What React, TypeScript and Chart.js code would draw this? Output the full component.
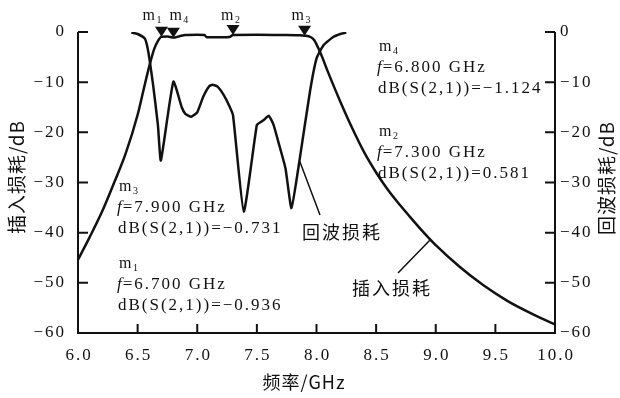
import React, { useEffect, useRef } from "react";
import { Chart, registerables } from "chart.js";

Chart.register(...registerables);

// Insertion loss S(2,1)
const s21Freq = [6.0, 6.1, 6.2, 6.3, 6.4, 6.5, 6.55, 6.6, 6.64, 6.67, 6.7, 6.75, 6.8, 6.85, 6.9, 7.0, 7.06, 7.08, 7.2, 7.27, 7.3, 7.5, 7.7, 7.85, 7.9, 7.95, 7.98, 8.03, 8.1, 8.2, 8.3, 8.4, 8.5, 8.6, 8.7, 8.8, 8.9, 9.0, 9.2, 9.4, 9.6, 9.8, 10.0];
const s21Db = [-45.4, -40.8, -35.9, -30.2, -24.2, -16.5, -11.5, -6.6, -3.3, -1.8, -0.94, -0.9, -1.12, -0.85, -0.6, -0.55, -0.6, -1.05, -1.05, -1.0, -0.58, -0.55, -0.6, -0.65, -0.73, -1.0, -1.6, -4.0, -8.2, -13.9, -19.2, -24.0, -28.0, -31.5, -34.5, -37.3, -40.0, -42.5, -46.8, -50.5, -53.6, -56.1, -58.3];

// Return loss S(1,1)
const s11Freq = [6.447, 6.5, 6.56, 6.58, 6.6, 6.63, 6.67, 6.695, 6.8, 6.87, 6.9, 6.95, 7.0, 7.05, 7.1, 7.13, 7.17, 7.22, 7.27, 7.3, 7.39, 7.5, 7.53, 7.56, 7.6, 7.64, 7.68, 7.74, 7.79, 7.86, 7.945, 8.0, 8.06, 8.14, 8.2, 8.25];
const s11Db = [-0.1, -0.4, -1.3, -2.8, -5.5, -10.6, -18.5, -25.6, -9.9, -15.0, -16.3, -16.9, -16.0, -12.9, -10.8, -10.5, -10.9, -12.5, -14.8, -16.6, -35.8, -18.5, -18.0, -17.5, -16.7, -18.5, -21.9, -27.2, -35.1, -25.2, -11.9, -5.3, -2.6, -1.0, -0.4, -0.1];

// Axis ticks
const freqTicks = [6.0, 6.5, 7.0, 7.5, 8.0, 8.5, 9.0, 9.5, 10.0];
const dbTicks = [0, -10, -20, -30, -40, -50, -60];

// Markers
const markerNames = ["1", "4", "2", "3"];
const markerFreq = [6.7, 6.8, 7.3, 7.9];
const markerDb = [-0.936, -1.124, -0.581, -0.731];
const markerFreqText = ["6.700", "6.800", "7.300", "7.900"];
const markerDbText = ["\u22120.936", "\u22121.124", "0.581", "\u22120.731"];

const xTitle = "频率/GHz";
const yTitle = "插入损耗/dB";
const y2Title = "回波损耗/dB";
const s11Label = "回波损耗";
const s21Label = "插入损耗";

const SERIF = "'Liberation Serif', 'Times New Roman', serif";
const CJK = "'Noto Sans CJK SC', sans-serif";

function fmtDb(v: number) {
  return v < 0 ? "\u2212" + Math.abs(v) : String(v);
}

function drawText(ctx: any, s: string, x: number, y: number, font: string, align: CanvasTextAlign = "left", spacing = "0px", baseline: CanvasTextBaseline = "middle") {
  ctx.save();
  ctx.font = font;
  ctx.textAlign = align;
  ctx.textBaseline = baseline;
  try { ctx.letterSpacing = spacing; } catch (e) {}
  ctx.fillStyle = "#111";
  ctx.fillText(s, x, y);
  ctx.restore();
}

function drawM(ctx: any, sub: string, x: number, yMid: number) {
  ctx.save();
  ctx.fillStyle = "#111";
  ctx.textBaseline = "alphabetic";
  ctx.textAlign = "left";
  ctx.font = `16px ${SERIF}`;
  ctx.fillText("m", x, yMid + 4);
  const w = ctx.measureText("m").width;
  ctx.font = `10px ${SERIF}`;
  ctx.fillText(sub, x + w + 1.5, yMid + 7);
  ctx.restore();
}

const overlay = {
  id: "overlay",
  afterDraw(chart: any) {
    const ctx = chart.ctx;
    const xs = chart.scales.x;
    const ys = chart.scales.y;
    const y2s = chart.scales.y2;
    const { left, right, top, bottom } = chart.chartArea;
    ctx.save();
    ctx.strokeStyle = "#111";
    ctx.lineWidth = 2;
    ctx.lineCap = "butt";
    // axis lines
    ctx.beginPath();
    ctx.moveTo(left, top);
    ctx.lineTo(left, bottom);
    ctx.lineTo(right, bottom);
    ctx.lineTo(right, top);
    ctx.stroke();
    // ticks
    ctx.beginPath();
    dbTicks.forEach((v) => {
      if (v === -60) return;
      const py = ys.getPixelForValue(v);
      ctx.moveTo(left, py);
      ctx.lineTo(left + 10, py);
      const py2 = y2s.getPixelForValue(v);
      ctx.moveTo(right, py2);
      ctx.lineTo(right - 10, py2);
    });
    freqTicks.forEach((f) => {
      if (f === 6.0 || f === 10.0) return;
      const px = xs.getPixelForValue(f);
      ctx.moveTo(px, bottom);
      ctx.lineTo(px, bottom - 9);
    });
    ctx.stroke();
    ctx.restore();

    // tick labels
    const tf = `17px ${SERIF}`;
    dbTicks.forEach((v) => {
      drawText(ctx, fmtDb(v), left - 12, ys.getPixelForValue(v), tf, "right", "2px");
      drawText(ctx, fmtDb(v), right + 5, y2s.getPixelForValue(v), tf, "left", "2px");
    });
    freqTicks.forEach((f) => {
      drawText(ctx, f.toFixed(1), xs.getPixelForValue(f) + 1, bottom + 23, tf, "center", "2px");
    });

    // axis titles
    drawText(ctx, xTitle, 304, 382, `18px ${CJK}`, "center", "1px");
    ctx.save();
    ctx.translate(17, 177);
    ctx.rotate(-Math.PI / 2);
    drawText(ctx, yTitle, 0, 0, `19px ${CJK}`, "center", "1px");
    ctx.restore();
    ctx.save();
    ctx.translate(607, 178);
    ctx.rotate(-Math.PI / 2);
    drawText(ctx, y2Title, 0, 0, `19px ${CJK}`, "center", "1px");
    ctx.restore();

    // markers
    const labelOffsets = [-19, -4, -12, -13];
    markerFreq.forEach((f, i) => {
      const px = xs.getPixelForValue(f);
      const py = ys.getPixelForValue(markerDb[i]);
      ctx.save();
      ctx.fillStyle = "#111";
      ctx.beginPath();
      ctx.moveTo(px, py);
      ctx.lineTo(px - 6.5, py - 10);
      ctx.lineTo(px + 6.5, py - 10);
      ctx.closePath();
      ctx.fill();
      ctx.restore();
      drawM(ctx, markerNames[i], px + labelOffsets[i], 16);
    });

    // marker readout blocks
    const blocks = [
      { i: 1, x: 378, y: 47 },
      { i: 2, x: 378, y: 132 },
      { i: 3, x: 118, y: 187 },
      { i: 0, x: 118, y: 264 },
    ];
    const af = `17px ${SERIF}`;
    blocks.forEach((b) => {
      drawM(ctx, markerNames[b.i], b.x + 1, b.y);
      ctx.save();
      ctx.font = `italic 17px ${SERIF}`;
      ctx.fillStyle = "#111";
      ctx.textBaseline = "middle";
      ctx.fillText("f", b.x - 1, b.y + 21);
      const fw = ctx.measureText("f").width;
      ctx.restore();
      drawText(ctx, "=" + markerFreqText[b.i] + " GHz", b.x - 1 + fw + 1, b.y + 21, af, "left", "2px");
      drawText(ctx, "dB(S(2,1))=" + markerDbText[b.i], b.x, b.y + 42, af, "left", "2px");
    });

    // leader lines and curve labels
    ctx.save();
    ctx.strokeStyle = "#111";
    ctx.lineWidth = 1.5;
    ctx.beginPath();
    ctx.moveTo(xs.getPixelForValue(7.86), y2s.getPixelForValue(-25.8));
    ctx.lineTo(320, 215);
    ctx.moveTo(xs.getPixelForValue(8.95), ys.getPixelForValue(-41.5));
    ctx.lineTo(398, 273);
    ctx.stroke();
    ctx.restore();
    drawText(ctx, s11Label, 302, 232, `18px ${CJK}`, "left", "2px");
    drawText(ctx, s21Label, 352, 288, `18px ${CJK}`, "left", "2px");
  },
};

export default function App() {
  const ref = useRef<HTMLCanvasElement | null>(null);
  useEffect(() => {
    if (!ref.current) return;
    const chart = new Chart(ref.current, {
      type: "line",
      data: {
        datasets: [
          {
            label: "S21",
            data: s21Freq.map((f, i) => ({ x: f, y: s21Db[i] })),
            yAxisID: "y",
            borderColor: "#111",
            borderWidth: 2.5,
            pointRadius: 0,
            cubicInterpolationMode: "monotone",
            fill: false,
          },
          {
            label: "S11",
            data: s11Freq.map((f, i) => ({ x: f, y: s11Db[i] })),
            yAxisID: "y2",
            borderColor: "#111",
            borderWidth: 2.5,
            pointRadius: 0,
            tension: 0.15,
            fill: false,
          },
        ],
      },
      options: {
        animation: false,
        responsive: false,
        maintainAspectRatio: false,
        layout: { padding: { top: 32, left: 0, right: 0, bottom: 0 } },
        plugins: { legend: { display: false }, tooltip: { enabled: false } },
        scales: {
          x: {
            type: "linear",
            min: 6,
            max: 10,
            ticks: { display: false, stepSize: 0.5 },
            grid: { display: false },
            border: { display: false },
            afterFit: (s: any) => { s.height = 65; },
          },
          y: {
            position: "left",
            min: -60,
            max: 0,
            ticks: { display: false, stepSize: 10 },
            grid: { display: false },
            border: { display: false },
            afterFit: (s: any) => { s.width = 78; },
          },
          y2: {
            position: "right",
            min: -60,
            max: 0,
            ticks: { display: false, stepSize: 10 },
            grid: { display: false },
            border: { display: false },
            afterFit: (s: any) => { s.width = 65; },
          },
        },
      } as any,
      plugins: [overlay],
    });
    return () => chart.destroy();
  }, []);
  return (
    <div style={{ position: "fixed", left: 0, top: 0, width: 620, height: 398, background: "#fff" }}>
      <canvas ref={ref} width={620} height={398} style={{ display: "block", width: 620, height: 398 }} />
    </div>
  );
}
